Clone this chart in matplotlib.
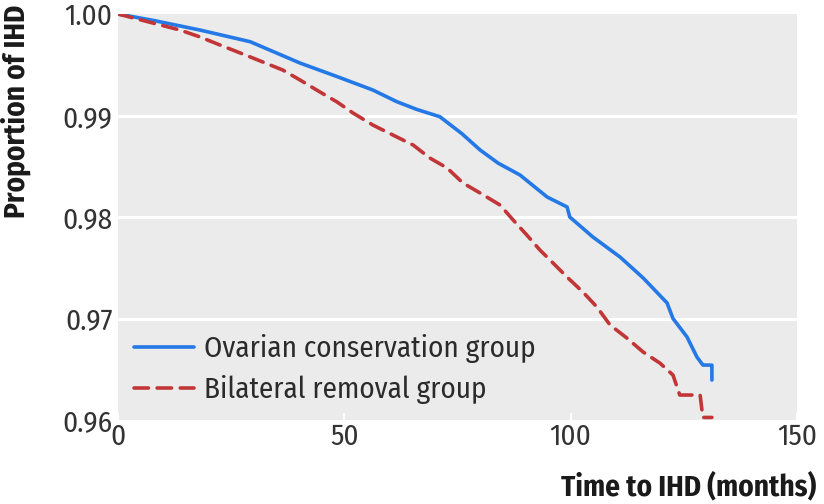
import matplotlib
matplotlib.use("Agg")
import matplotlib.pyplot as plt
from matplotlib import font_manager

names = set(f.name for f in font_manager.fontManager.ttflist)
cands = ["Fira Sans Condensed", "Fira Sans Extra Condensed", "Roboto Condensed", "PT Sans Narrow",
         "Liberation Sans Narrow", "Archivo Narrow", "IBM Plex Sans Condensed", "Encode Sans Condensed",
         "Barlow Semi Condensed", "Open Sans Condensed", "Asap Condensed", "Noto Sans Display", "Roboto"]
FONT = next(c for c in cands if c in names)

# Ovarian conservation group
cons_t = [0, 8, 18.1, 29.2, 40.2, 48, 56.3, 61.6, 66, 71.1, 76, 80.0, 84, 88.8, 94.8, 99.2,
          99.8, 104.9, 110.9, 116.0, 121.3, 122.6, 125.7, 127.9, 129.2, 131.2, 131.2]
cons_v = [1.0, 0.99935, 0.99842, 0.99727, 0.99517, 0.9939, 0.99251, 0.99136, 0.9906, 0.98988,
          0.9882, 0.9866, 0.9853, 0.98414, 0.98197, 0.98099,
          0.98, 0.97803, 0.97606, 0.97400, 0.97153, 0.97, 0.96818, 0.9662, 0.96542, 0.9654, 0.96394]

# Bilateral removal group
bil_t = [0, 7.7, 13.7, 18.1, 22.5, 27.0, 32.0, 36.4, 40.2, 44.6, 48.4, 51.9, 56.3, 59.4, 65.2,
         68.9, 72.7, 76.2, 80.0, 84.4, 87.3, 90.3, 93.2, 96.1, 99.3, 102.7, 105.8, 108.7,
         112.4, 116.0, 119.7, 122.6, 124.1, 128.6, 129.2, 131.2]
bil_v = [1.0, 0.99911, 0.99842, 0.99774, 0.99695, 0.99616, 0.99527, 0.99448, 0.9935, 0.99232,
         0.99133, 0.99025, 0.98906, 0.98837, 0.98709, 0.98581, 0.98483, 0.98335, 0.98236,
         0.98118, 0.97970, 0.97823, 0.97675, 0.97547, 0.97404, 0.97261, 0.97113, 0.96936,
         0.96808, 0.96670, 0.96561, 0.96443, 0.96246, 0.96246, 0.96025, 0.96025]

labels = ["Ovarian conservation group", "Bilateral removal group"]
xticks = [0, 50, 100, 150]
yticks = [0.96, 0.97, 0.98, 0.99, 1.00]
ytick_labels = ["0.96", "0.97", "0.98", "0.99", "1.00"]

plt.rcParams['font.family'] = [FONT, 'DejaVu Sans']
FS = 21

fig = plt.figure(figsize=(8.24, 5.04), dpi=100)
ax = fig.add_axes([118/824, 1-420/504, (797-118)/824, (420-14)/504])
ax.set_facecolor('#ebebeb')
for s in ax.spines.values():
    s.set_visible(False)

for y in [0.97, 0.98, 0.99]:
    ax.axhline(y, color='white', lw=2.2, zorder=1)

ax.plot(cons_t, cons_v, color='#2479e6', lw=2.6, label=labels[0], zorder=3,
        solid_capstyle='round', solid_joinstyle='round')
ax.plot(bil_t, bil_v, color='#c23638', lw=2.6, label=labels[1], zorder=3,
        dashes=(4.0, 2.4), dash_capstyle='round', dash_joinstyle='round')

ax.set_xlim(0, 150)
ax.set_ylim(0.96, 1.00)
ax.set_xticks(xticks)
ax.set_yticks(yticks)
ax.set_yticklabels(ytick_labels)
ax.tick_params(axis='x', direction='in', length=5, width=1.5, color='white',
               labelsize=FS, labelcolor='#333333', pad=2)
ax.tick_params(axis='y', length=0, labelsize=FS, labelcolor='#333333', pad=4)

fig.text(16/824, 1-5/504, "Proportion of IHD", fontsize=FS, fontweight='bold', color='#1a1a1a',
         rotation=90, ha='center', va='top')
fig.text(816/824, 1-487/504, "Time to IHD (months)", fontsize=FS, fontweight='bold',
         color='#1a1a1a', ha='right', va='center')

leg = ax.legend(loc='lower left', bbox_to_anchor=(0.0, 0.0), frameon=False,
                prop={'size': FS},
                handlelength=2.05, handletextpad=0.35, labelspacing=0.42, borderaxespad=0.15)
for t in leg.get_texts():
    t.set_color('#2b2b2b')

fig.savefig("out.png", dpi=100)
